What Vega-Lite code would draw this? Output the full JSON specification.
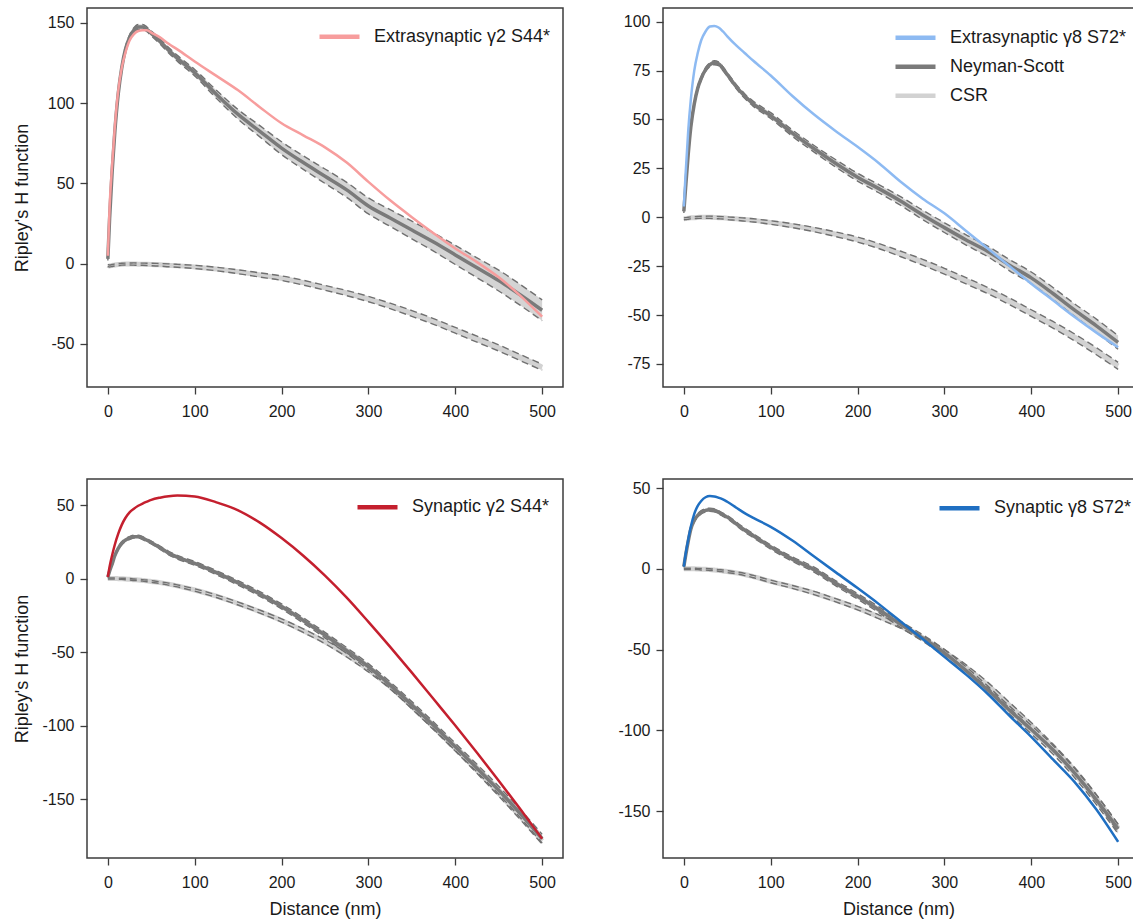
{
"$schema": "https://vega.github.io/schema/vega-lite/v6.json",
"background": "white",
"padding": {"left": 12, "top": 7, "right": 0, "bottom": 0},
"columns": 2,
"spacing": {"row": 92, "column": 100},
"bounds": "flush",
"datasets": {
"tl": [
{"r":0,"obs":5,"ns":3,"nl":2,"nh":4,"cs":-1,"cl":-1.6,"ch":-0.4},
{"r":2,"obs":35,"ns":28,"nl":26.8,"nh":29.2,"cs":-1.4,"cl":-2.0,"ch":-0.8},
{"r":5,"obs":62,"ns":58,"nl":56.7,"nh":59.3,"cs":-1.1,"cl":-1.7,"ch":-0.5},
{"r":8,"obs":85,"ns":82,"nl":80.6,"nh":83.4,"cs":-0.8,"cl":-1.4,"ch":-0.2},
{"r":12,"obs":108,"ns":106,"nl":104.5,"nh":107.5,"cs":-0.5,"cl":-1.1,"ch":0.1},
{"r":16,"obs":122,"ns":122,"nl":120.5,"nh":123.5,"cs":-0.3,"cl":-0.9,"ch":0.3},
{"r":20,"obs":131,"ns":133,"nl":131.5,"nh":134.5,"cs":-0.2,"cl":-0.8,"ch":0.4},
{"r":25,"obs":139,"ns":141,"nl":139.5,"nh":142.5,"cs":-0.2,"cl":-0.8,"ch":0.4},
{"r":30,"obs":143,"ns":145.5,"nl":144,"nh":147,"cs":-0.2,"cl":-0.9,"ch":0.5},
{"r":35,"obs":145,"ns":147.5,"nl":146,"nh":149,"cs":-0.3,"cl":-1.0,"ch":0.4},
{"r":40,"obs":145.5,"ns":147.5,"nl":146,"nh":149,"cs":-0.3,"cl":-1.0,"ch":0.4},
{"r":45,"obs":145.5,"ns":146,"nl":144.5,"nh":147.5,"cs":-0.4,"cl":-1.1,"ch":0.3},
{"r":50,"obs":144,"ns":143.5,"nl":142,"nh":145,"cs":-0.5,"cl":-1.3,"ch":0.3},
{"r":60,"obs":141,"ns":138.5,"nl":136.9,"nh":140.1,"cs":-0.7,"cl":-1.5,"ch":0.1},
{"r":70,"obs":137,"ns":133,"nl":131.3,"nh":134.7,"cs":-1,"cl":-1.9,"ch":-0.1},
{"r":80,"obs":133.5,"ns":128,"nl":126.2,"nh":129.8,"cs":-1.3,"cl":-2.2,"ch":-0.4},
{"r":100,"obs":126,"ns":119,"nl":117,"nh":121,"cs":-2,"cl":-3,"ch":-1},
{"r":125,"obs":117,"ns":105.5,"nl":103,"nh":108,"cs":-3.3,"cl":-4.4,"ch":-2.2},
{"r":150,"obs":108,"ns":93,"nl":90,"nh":96,"cs":-5,"cl":-6.2,"ch":-3.8},
{"r":175,"obs":97.5,"ns":82.5,"nl":79,"nh":86,"cs":-7,"cl":-8.3,"ch":-5.7},
{"r":200,"obs":87.5,"ns":72,"nl":68,"nh":76,"cs":-9,"cl":-10.4,"ch":-7.6},
{"r":225,"obs":80,"ns":63,"nl":58.8,"nh":67.2,"cs":-11.8,"cl":-13.3,"ch":-10.3},
{"r":250,"obs":72.5,"ns":54.5,"nl":50,"nh":59,"cs":-15,"cl":-16.5,"ch":-13.5},
{"r":275,"obs":63,"ns":46,"nl":41.3,"nh":50.7,"cs":-18.3,"cl":-19.9,"ch":-16.7},
{"r":300,"obs":51,"ns":36,"nl":31,"nh":41,"cs":-22,"cl":-23.7,"ch":-20.3},
{"r":325,"obs":39.5,"ns":28.5,"nl":23.3,"nh":33.7,"cs":-26.3,"cl":-28,"ch":-24.6},
{"r":350,"obs":29,"ns":21,"nl":15.5,"nh":26.5,"cs":-31,"cl":-32.8,"ch":-29.2},
{"r":375,"obs":19,"ns":13.5,"nl":7.8,"nh":19.2,"cs":-36,"cl":-37.8,"ch":-34.2},
{"r":400,"obs":9.5,"ns":5.5,"nl":-0.5,"nh":11.5,"cs":-41.5,"cl":-43.3,"ch":-39.7},
{"r":425,"obs":1,"ns":-2.5,"nl":-8.7,"nh":3.7,"cs":-47,"cl":-48.9,"ch":-45.1},
{"r":450,"obs":-8.5,"ns":-10.5,"nl":-17,"nh":-4,"cs":-52.5,"cl":-54.4,"ch":-50.6},
{"r":475,"obs":-20,"ns":-19.5,"nl":-26,"nh":-13,"cs":-58.5,"cl":-60.4,"ch":-56.6},
{"r":500,"obs":-33,"ns":-29,"nl":-35.5,"nh":-22.5,"cs":-64.5,"cl":-66.4,"ch":-62.6}
],
"tr": [
{"r":0,"obs":5.5,"ns":3,"nl":2.2,"nh":3.8,"cs":-0.8,"cl":-1.3,"ch":-0.3},
{"r":2,"obs":22,"ns":15,"nl":14.2,"nh":15.8,"cs":-0.7,"cl":-1.2,"ch":-0.2},
{"r":5,"obs":44,"ns":32,"nl":31.1,"nh":32.9,"cs":-0.5,"cl":-1.0,"ch":0},
{"r":8,"obs":60,"ns":46,"nl":45,"nh":47,"cs":-0.3,"cl":-0.8,"ch":0.2},
{"r":12,"obs":75,"ns":58,"nl":57,"nh":59,"cs":-0.2,"cl":-0.7,"ch":0.3},
{"r":16,"obs":84,"ns":66,"nl":65,"nh":67,"cs":-0.1,"cl":-0.6,"ch":0.4},
{"r":20,"obs":90.5,"ns":71,"nl":70,"nh":72,"cs":0,"cl":-0.5,"ch":0.5},
{"r":25,"obs":95,"ns":75.5,"nl":74.5,"nh":76.5,"cs":0,"cl":-0.5,"ch":0.5},
{"r":30,"obs":97.5,"ns":78,"nl":77,"nh":79,"cs":0,"cl":-0.6,"ch":0.6},
{"r":35,"obs":97.8,"ns":79,"nl":78,"nh":80,"cs":-0.1,"cl":-0.7,"ch":0.5},
{"r":40,"obs":97,"ns":78.5,"nl":77.5,"nh":79.5,"cs":-0.2,"cl":-0.8,"ch":0.4},
{"r":45,"obs":95,"ns":76,"nl":75,"nh":77,"cs":-0.3,"cl":-0.9,"ch":0.3},
{"r":50,"obs":92.5,"ns":73,"nl":72,"nh":74,"cs":-0.5,"cl":-1.2,"ch":0.2},
{"r":60,"obs":88,"ns":67,"nl":65.9,"nh":68.1,"cs":-0.8,"cl":-1.5,"ch":-0.1},
{"r":70,"obs":84,"ns":62,"nl":60.8,"nh":63.2,"cs":-1.2,"cl":-2.0,"ch":-0.4},
{"r":80,"obs":80,"ns":58,"nl":56.7,"nh":59.3,"cs":-1.6,"cl":-2.4,"ch":-0.8},
{"r":100,"obs":72.5,"ns":52,"nl":50.5,"nh":53.5,"cs":-2.7,"cl":-3.6,"ch":-1.8},
{"r":125,"obs":62,"ns":43,"nl":41.4,"nh":44.6,"cs":-4.3,"cl":-5.3,"ch":-3.3},
{"r":150,"obs":52.5,"ns":35,"nl":33.3,"nh":36.7,"cs":-6.3,"cl":-7.4,"ch":-5.2},
{"r":175,"obs":44,"ns":27.5,"nl":25.6,"nh":29.4,"cs":-8.7,"cl":-9.9,"ch":-7.5},
{"r":200,"obs":36,"ns":20.5,"nl":18.5,"nh":22.5,"cs":-11.4,"cl":-12.7,"ch":-10.1},
{"r":225,"obs":27.5,"ns":14.5,"nl":12.4,"nh":16.6,"cs":-14.8,"cl":-16.1,"ch":-13.5},
{"r":250,"obs":18,"ns":8.2,"nl":6.0,"nh":10.4,"cs":-18.8,"cl":-20.2,"ch":-17.4},
{"r":275,"obs":9.5,"ns":1.2,"nl":-1.2,"nh":3.6,"cs":-23,"cl":-24.5,"ch":-21.5},
{"r":300,"obs":2,"ns":-5.3,"nl":-7.8,"nh":-2.8,"cs":-27.6,"cl":-29.1,"ch":-26.1},
{"r":325,"obs":-7,"ns":-11.6,"nl":-14.2,"nh":-9.0,"cs":-32.5,"cl":-34.1,"ch":-30.9},
{"r":350,"obs":-16,"ns":-17.5,"nl":-20.2,"nh":-14.8,"cs":-37.5,"cl":-39.1,"ch":-35.9},
{"r":375,"obs":-25,"ns":-24.5,"nl":-27.4,"nh":-21.6,"cs":-43,"cl":-44.7,"ch":-41.3},
{"r":400,"obs":-34,"ns":-31,"nl":-34,"nh":-28,"cs":-49,"cl":-50.7,"ch":-47.3},
{"r":425,"obs":-42.5,"ns":-39,"nl":-42.1,"nh":-35.9,"cs":-55,"cl":-56.7,"ch":-53.3},
{"r":450,"obs":-51,"ns":-47.5,"nl":-50.7,"nh":-44.3,"cs":-61.5,"cl":-63.3,"ch":-59.7},
{"r":475,"obs":-59,"ns":-55.5,"nl":-58.9,"nh":-52.1,"cs":-68.5,"cl":-70.3,"ch":-66.7},
{"r":500,"obs":-66.5,"ns":-64,"nl":-67.5,"nh":-60.5,"cs":-76,"cl":-77.8,"ch":-74.2}
],
"bl": [
{"r":0,"obs":1,"ns":1,"nl":0.5,"nh":1.5,"cs":0,"cl":-0.4,"ch":0.4},
{"r":2,"obs":8,"ns":5,"nl":4.4,"nh":5.6,"cs":0,"cl":-0.4,"ch":0.4},
{"r":5,"obs":16,"ns":10,"nl":9.3,"nh":10.7,"cs":0,"cl":-0.4,"ch":0.4},
{"r":8,"obs":23,"ns":15.5,"nl":14.7,"nh":16.3,"cs":0,"cl":-0.4,"ch":0.4},
{"r":12,"obs":30.5,"ns":20.5,"nl":19.6,"nh":21.4,"cs":-0.1,"cl":-0.5,"ch":0.3},
{"r":16,"obs":36.5,"ns":24,"nl":23,"nh":25,"cs":-0.2,"cl":-0.6,"ch":0.2},
{"r":20,"obs":41,"ns":26,"nl":25,"nh":27,"cs":-0.3,"cl":-0.8,"ch":0.2},
{"r":25,"obs":45,"ns":27.5,"nl":26.5,"nh":28.5,"cs":-0.5,"cl":-1.0,"ch":0},
{"r":30,"obs":47.5,"ns":28.5,"nl":27.5,"nh":29.5,"cs":-0.8,"cl":-1.3,"ch":-0.3},
{"r":35,"obs":49.5,"ns":28.5,"nl":27.5,"nh":29.5,"cs":-1,"cl":-1.5,"ch":-0.5},
{"r":40,"obs":51,"ns":27.5,"nl":26.5,"nh":28.5,"cs":-1.3,"cl":-1.8,"ch":-0.8},
{"r":45,"obs":52.3,"ns":26,"nl":25,"nh":27,"cs":-1.6,"cl":-2.2,"ch":-1.0},
{"r":50,"obs":53.5,"ns":24.5,"nl":23.5,"nh":25.5,"cs":-2,"cl":-2.6,"ch":-1.4},
{"r":60,"obs":55,"ns":21,"nl":19.9,"nh":22.1,"cs":-2.8,"cl":-3.4,"ch":-2.2},
{"r":70,"obs":56,"ns":17.3,"nl":16.1,"nh":18.5,"cs":-3.8,"cl":-4.5,"ch":-3.1},
{"r":80,"obs":56.4,"ns":14.5,"nl":13.3,"nh":15.7,"cs":-5,"cl":-5.7,"ch":-4.3},
{"r":100,"obs":55.8,"ns":10.3,"nl":9,"nh":11.6,"cs":-7.8,"cl":-8.6,"ch":-7.0},
{"r":125,"obs":51.8,"ns":4,"nl":2.6,"nh":5.4,"cs":-12,"cl":-12.9,"ch":-11.1},
{"r":150,"obs":46.4,"ns":-3,"nl":-4.5,"nh":-1.5,"cs":-17,"cl":-18,"ch":-16},
{"r":175,"obs":38,"ns":-10.5,"nl":-12.1,"nh":-8.9,"cs":-22.5,"cl":-23.5,"ch":-21.5},
{"r":200,"obs":27.5,"ns":-19,"nl":-20.7,"nh":-17.3,"cs":-28.5,"cl":-29.6,"ch":-27.4},
{"r":225,"obs":15.5,"ns":-28.5,"nl":-30.3,"nh":-26.7,"cs":-35.5,"cl":-36.7,"ch":-34.3},
{"r":250,"obs":2,"ns":-38.5,"nl":-40.4,"nh":-36.6,"cs":-43,"cl":-44.3,"ch":-41.7},
{"r":275,"obs":-13,"ns":-49,"nl":-51,"nh":-47,"cs":-52,"cl":-53.4,"ch":-50.6},
{"r":300,"obs":-29.5,"ns":-60,"nl":-62.1,"nh":-57.9,"cs":-62,"cl":-63.5,"ch":-60.5},
{"r":325,"obs":-46.5,"ns":-72.5,"nl":-74.7,"nh":-70.3,"cs":-73.5,"cl":-75.1,"ch":-71.9},
{"r":350,"obs":-64,"ns":-86,"nl":-88.3,"nh":-83.7,"cs":-87,"cl":-88.7,"ch":-85.3},
{"r":375,"obs":-82,"ns":-100,"nl":-102.4,"nh":-97.6,"cs":-101,"cl":-102.8,"ch":-99.2},
{"r":400,"obs":-100,"ns":-114.5,"nl":-117,"nh":-112,"cs":-115.5,"cl":-117.4,"ch":-113.6},
{"r":425,"obs":-118.5,"ns":-129,"nl":-131.6,"nh":-126.4,"cs":-130.5,"cl":-132.5,"ch":-128.5},
{"r":450,"obs":-137.5,"ns":-144,"nl":-146.7,"nh":-141.3,"cs":-146,"cl":-148,"ch":-144},
{"r":475,"obs":-157,"ns":-160,"nl":-162.8,"nh":-157.2,"cs":-162,"cl":-164.1,"ch":-159.9},
{"r":500,"obs":-177,"ns":-177,"nl":-180,"nh":-174,"cs":-178.5,"cl":-180.7,"ch":-176.3}
],
"br": [
{"r":0,"obs":1.4,"ns":1.4,"nl":0.9,"nh":1.9,"cs":0,"cl":-0.4,"ch":0.4},
{"r":2,"obs":9,"ns":8,"nl":7.4,"nh":8.6,"cs":0,"cl":-0.4,"ch":0.4},
{"r":5,"obs":18,"ns":17,"nl":16.3,"nh":17.7,"cs":0,"cl":-0.4,"ch":0.4},
{"r":8,"obs":26,"ns":24.5,"nl":23.7,"nh":25.3,"cs":0,"cl":-0.4,"ch":0.4},
{"r":12,"obs":34,"ns":30,"nl":29.1,"nh":30.9,"cs":0,"cl":-0.4,"ch":0.4},
{"r":16,"obs":39,"ns":33,"nl":32,"nh":34,"cs":-0.1,"cl":-0.5,"ch":0.3},
{"r":20,"obs":42,"ns":35,"nl":34,"nh":36,"cs":-0.2,"cl":-0.7,"ch":0.3},
{"r":25,"obs":44.3,"ns":36.2,"nl":35.2,"nh":37.2,"cs":-0.3,"cl":-0.8,"ch":0.2},
{"r":30,"obs":45,"ns":36.6,"nl":35.6,"nh":37.6,"cs":-0.5,"cl":-1.0,"ch":0},
{"r":35,"obs":44.8,"ns":36.3,"nl":35.3,"nh":37.3,"cs":-0.7,"cl":-1.2,"ch":-0.2},
{"r":40,"obs":44,"ns":35,"nl":34,"nh":36,"cs":-1,"cl":-1.5,"ch":-0.5},
{"r":45,"obs":43,"ns":33.5,"nl":32.5,"nh":34.5,"cs":-1.3,"cl":-1.9,"ch":-0.7},
{"r":50,"obs":41.5,"ns":32,"nl":31,"nh":33,"cs":-1.7,"cl":-2.3,"ch":-1.1},
{"r":60,"obs":38,"ns":28,"nl":26.9,"nh":29.1,"cs":-2.5,"cl":-3.1,"ch":-1.9},
{"r":70,"obs":34.5,"ns":24,"nl":22.8,"nh":25.2,"cs":-3.5,"cl":-4.2,"ch":-2.8},
{"r":80,"obs":31.5,"ns":20.5,"nl":19.3,"nh":21.7,"cs":-4.8,"cl":-5.5,"ch":-4.1},
{"r":100,"obs":26,"ns":13.5,"nl":12.2,"nh":14.8,"cs":-7.8,"cl":-8.6,"ch":-7.0},
{"r":125,"obs":17.5,"ns":6,"nl":4.6,"nh":7.4,"cs":-11.2,"cl":-12.1,"ch":-10.3},
{"r":150,"obs":7.6,"ns":-0.5,"nl":-2,"nh":1,"cs":-15,"cl":-16,"ch":-14},
{"r":175,"obs":-2.2,"ns":-9,"nl":-10.6,"nh":-7.4,"cs":-19.5,"cl":-20.5,"ch":-18.5},
{"r":200,"obs":-11.9,"ns":-17,"nl":-18.7,"nh":-15.3,"cs":-24.3,"cl":-25.4,"ch":-23.2},
{"r":225,"obs":-22,"ns":-25.5,"nl":-27.3,"nh":-23.7,"cs":-29.8,"cl":-31,"ch":-28.6},
{"r":250,"obs":-32.8,"ns":-34.5,"nl":-36.4,"nh":-32.6,"cs":-35.6,"cl":-36.9,"ch":-34.3},
{"r":275,"obs":-43.5,"ns":-42.8,"nl":-44.8,"nh":-40.8,"cs":-43,"cl":-44.4,"ch":-41.6},
{"r":300,"obs":-54.5,"ns":-52,"nl":-54.1,"nh":-49.9,"cs":-51.5,"cl":-53,"ch":-50},
{"r":325,"obs":-65.5,"ns":-63,"nl":-65.3,"nh":-60.7,"cs":-61,"cl":-62.6,"ch":-59.4},
{"r":350,"obs":-77.5,"ns":-75,"nl":-77.4,"nh":-72.6,"cs":-72,"cl":-73.7,"ch":-70.3},
{"r":375,"obs":-91,"ns":-87.5,"nl":-90,"nh":-85,"cs":-84.5,"cl":-86.3,"ch":-82.7},
{"r":400,"obs":-104,"ns":-99.5,"nl":-102.1,"nh":-96.9,"cs":-97,"cl":-98.9,"ch":-95.1},
{"r":425,"obs":-118,"ns":-112,"nl":-114.7,"nh":-109.3,"cs":-110.5,"cl":-112.5,"ch":-108.5},
{"r":450,"obs":-132,"ns":-126.5,"nl":-129.3,"nh":-123.7,"cs":-125,"cl":-127.1,"ch":-122.9},
{"r":475,"obs":-149,"ns":-143,"nl":-146,"nh":-140,"cs":-142,"cl":-144.2,"ch":-139.8},
{"r":500,"obs":-169,"ns":-161,"nl":-164,"nh":-158,"cs":-160.5,"cl":-162.8,"ch":-158.2}
]
},
"concat": [
{
"width": 476, "height": 379,
"data": {"name": "tl"},
"encoding": {"x": {"field": "r", "type": "quantitative", "title": null, "scale": {"domain": [-24, 524], "nice": false, "zero": false}, "axis": {"values": [0,100,200,300,400,500]}}},
"layer": [
{"mark": {"type": "area", "color": "#d4d4d4", "interpolate": "monotone"}, "encoding": {"y": {"field": "nl", "type": "quantitative", "title": "Ripley's H function", "scale": {"domain": [-76.8, 159.3], "nice": false, "zero": false}, "axis": {"values": [-50,0,50,100,150], "titlePadding": 16}}, "y2": {"field": "nh"}}},
{"mark": {"type": "area", "color": "#dadada", "interpolate": "monotone"}, "encoding": {"y": {"field": "cl", "type": "quantitative", "title": "Ripley's H function", "scale": {"domain": [-76.8, 159.3], "nice": false, "zero": false}}, "y2": {"field": "ch"}}},
{"mark": {"type": "line", "color": "#d2d2d2", "strokeWidth": 5, "interpolate": "monotone"}, "encoding": {"y": {"field": "cs", "type": "quantitative", "title": "Ripley's H function", "scale": {"domain": [-76.8, 159.3], "nice": false, "zero": false}}}},
{"mark": {"type": "line", "color": "#707070", "strokeWidth": 1.4, "strokeDash": [7, 4], "interpolate": "monotone"}, "encoding": {"y": {"field": "nl", "type": "quantitative", "title": "Ripley's H function", "scale": {"domain": [-76.8, 159.3], "nice": false, "zero": false}}}},
{"mark": {"type": "line", "color": "#707070", "strokeWidth": 1.4, "strokeDash": [7, 4], "interpolate": "monotone"}, "encoding": {"y": {"field": "nh", "type": "quantitative", "title": "Ripley's H function", "scale": {"domain": [-76.8, 159.3], "nice": false, "zero": false}}}},
{"mark": {"type": "line", "color": "#707070", "strokeWidth": 1.4, "strokeDash": [7, 4], "interpolate": "monotone"}, "encoding": {"y": {"field": "cl", "type": "quantitative", "title": "Ripley's H function", "scale": {"domain": [-76.8, 159.3], "nice": false, "zero": false}}}},
{"mark": {"type": "line", "color": "#707070", "strokeWidth": 1.4, "strokeDash": [7, 4], "interpolate": "monotone"}, "encoding": {"y": {"field": "ch", "type": "quantitative", "title": "Ripley's H function", "scale": {"domain": [-76.8, 159.3], "nice": false, "zero": false}}}},
{"mark": {"type": "line", "color": "#7a7a7a", "strokeWidth": 3.5, "interpolate": "monotone"}, "encoding": {"y": {"field": "ns", "type": "quantitative", "title": "Ripley's H function", "scale": {"domain": [-76.8, 159.3], "nice": false, "zero": false}}}},
{"mark": {"type": "line", "strokeWidth": 2.5, "interpolate": "monotone"}, "encoding": {"y": {"field": "obs", "type": "quantitative", "title": "Ripley's H function", "scale": {"domain": [-76.8, 159.3], "nice": false, "zero": false}}, "color": {"datum": "Extrasynaptic γ2 S44*", "type": "nominal", "scale": {"domain": ["Extrasynaptic γ2 S44*"], "range": ["#f79d9d"]}, "legend": {"orient": "none", "legendX": 240, "legendY": 16.3, "title": null}}}}
]
},
{
"width": 471, "height": 379,
"data": {"name": "tr"},
"encoding": {"x": {"field": "r", "type": "quantitative", "title": null, "scale": {"domain": [-24, 518.3], "nice": false, "zero": false}, "axis": {"values": [0,100,200,300,400,500]}}},
"layer": [
{"mark": {"type": "area", "color": "#d4d4d4", "interpolate": "monotone"}, "encoding": {"y": {"field": "nl", "type": "quantitative", "title": null, "scale": {"domain": [-86.8, 107], "nice": false, "zero": false}, "axis": {"values": [-75,-50,-25,0,25,50,75,100]}}, "y2": {"field": "nh"}}},
{"mark": {"type": "area", "color": "#dadada", "interpolate": "monotone"}, "encoding": {"y": {"field": "cl", "type": "quantitative", "title": null, "scale": {"domain": [-86.8, 107], "nice": false, "zero": false}}, "y2": {"field": "ch"}}},
{"mark": {"type": "line", "strokeWidth": 5, "interpolate": "monotone"}, "encoding": {"y": {"field": "cs", "type": "quantitative", "title": null, "scale": {"domain": [-86.8, 107], "nice": false, "zero": false}}, "color": {"datum": "CSR", "type": "nominal", "scale": {"domain": ["Extrasynaptic γ8 S72*", "Neyman-Scott", "CSR"], "range": ["#8dbaf2", "#7a7a7a", "#d2d2d2"]}, "legend": {"orient": "none", "legendX": 240, "legendY": 17.3, "title": null}}}},
{"mark": {"type": "line", "color": "#707070", "strokeWidth": 1.4, "strokeDash": [7, 4], "interpolate": "monotone"}, "encoding": {"y": {"field": "nl", "type": "quantitative", "title": null, "scale": {"domain": [-86.8, 107], "nice": false, "zero": false}}}},
{"mark": {"type": "line", "color": "#707070", "strokeWidth": 1.4, "strokeDash": [7, 4], "interpolate": "monotone"}, "encoding": {"y": {"field": "nh", "type": "quantitative", "title": null, "scale": {"domain": [-86.8, 107], "nice": false, "zero": false}}}},
{"mark": {"type": "line", "color": "#707070", "strokeWidth": 1.4, "strokeDash": [7, 4], "interpolate": "monotone"}, "encoding": {"y": {"field": "cl", "type": "quantitative", "title": null, "scale": {"domain": [-86.8, 107], "nice": false, "zero": false}}}},
{"mark": {"type": "line", "color": "#707070", "strokeWidth": 1.4, "strokeDash": [7, 4], "interpolate": "monotone"}, "encoding": {"y": {"field": "ch", "type": "quantitative", "title": null, "scale": {"domain": [-86.8, 107], "nice": false, "zero": false}}}},
{"mark": {"type": "line", "strokeWidth": 3.5, "interpolate": "monotone"}, "encoding": {"y": {"field": "ns", "type": "quantitative", "title": null, "scale": {"domain": [-86.8, 107], "nice": false, "zero": false}}, "color": {"datum": "Neyman-Scott", "type": "nominal", "scale": {"domain": ["Extrasynaptic γ8 S72*", "Neyman-Scott", "CSR"], "range": ["#8dbaf2", "#7a7a7a", "#d2d2d2"]}, "legend": {"orient": "none", "legendX": 240, "legendY": 17.3, "title": null}}}},
{"mark": {"type": "line", "strokeWidth": 2.5, "interpolate": "monotone"}, "encoding": {"y": {"field": "obs", "type": "quantitative", "title": null, "scale": {"domain": [-86.8, 107], "nice": false, "zero": false}}, "color": {"datum": "Extrasynaptic γ8 S72*", "type": "nominal", "scale": {"domain": ["Extrasynaptic γ8 S72*", "Neyman-Scott", "CSR"], "range": ["#8dbaf2", "#7a7a7a", "#d2d2d2"]}, "legend": {"orient": "none", "legendX": 240, "legendY": 17.3, "title": null}}}}
]
},
{
"width": 476, "height": 379,
"data": {"name": "bl"},
"encoding": {"x": {"field": "r", "type": "quantitative", "title": "Distance (nm)", "scale": {"domain": [-24, 524], "nice": false, "zero": false}, "axis": {"values": [0,100,200,300,400,500]}}},
"layer": [
{"mark": {"type": "area", "color": "#d4d4d4", "interpolate": "monotone"}, "encoding": {"y": {"field": "nl", "type": "quantitative", "title": "Ripley's H function", "scale": {"domain": [-190.1, 67.7], "nice": false, "zero": false}, "axis": {"values": [-150,-100,-50,0,50], "titlePadding": 10}}, "y2": {"field": "nh"}}},
{"mark": {"type": "area", "color": "#dadada", "interpolate": "monotone"}, "encoding": {"y": {"field": "cl", "type": "quantitative", "title": "Ripley's H function", "scale": {"domain": [-190.1, 67.7], "nice": false, "zero": false}}, "y2": {"field": "ch"}}},
{"mark": {"type": "line", "color": "#d2d2d2", "strokeWidth": 5, "interpolate": "monotone"}, "encoding": {"y": {"field": "cs", "type": "quantitative", "title": "Ripley's H function", "scale": {"domain": [-190.1, 67.7], "nice": false, "zero": false}}}},
{"mark": {"type": "line", "color": "#707070", "strokeWidth": 1.4, "strokeDash": [7, 4], "interpolate": "monotone"}, "encoding": {"y": {"field": "nl", "type": "quantitative", "title": "Ripley's H function", "scale": {"domain": [-190.1, 67.7], "nice": false, "zero": false}}}},
{"mark": {"type": "line", "color": "#707070", "strokeWidth": 1.4, "strokeDash": [7, 4], "interpolate": "monotone"}, "encoding": {"y": {"field": "nh", "type": "quantitative", "title": "Ripley's H function", "scale": {"domain": [-190.1, 67.7], "nice": false, "zero": false}}}},
{"mark": {"type": "line", "color": "#707070", "strokeWidth": 1.4, "strokeDash": [7, 4], "interpolate": "monotone"}, "encoding": {"y": {"field": "cl", "type": "quantitative", "title": "Ripley's H function", "scale": {"domain": [-190.1, 67.7], "nice": false, "zero": false}}}},
{"mark": {"type": "line", "color": "#707070", "strokeWidth": 1.4, "strokeDash": [7, 4], "interpolate": "monotone"}, "encoding": {"y": {"field": "ch", "type": "quantitative", "title": "Ripley's H function", "scale": {"domain": [-190.1, 67.7], "nice": false, "zero": false}}}},
{"mark": {"type": "line", "color": "#7a7a7a", "strokeWidth": 3.5, "interpolate": "monotone"}, "encoding": {"y": {"field": "ns", "type": "quantitative", "title": "Ripley's H function", "scale": {"domain": [-190.1, 67.7], "nice": false, "zero": false}}}},
{"mark": {"type": "line", "strokeWidth": 2.5, "interpolate": "monotone"}, "encoding": {"y": {"field": "obs", "type": "quantitative", "title": "Ripley's H function", "scale": {"domain": [-190.1, 67.7], "nice": false, "zero": false}}, "color": {"datum": "Synaptic γ2 S44*", "type": "nominal", "scale": {"domain": ["Synaptic γ2 S44*"], "range": ["#c41f2e"]}, "legend": {"orient": "none", "legendX": 278, "legendY": 15.7, "title": null}}}}
]
},
{
"width": 471, "height": 379,
"data": {"name": "br"},
"encoding": {"x": {"field": "r", "type": "quantitative", "title": "Distance (nm)", "scale": {"domain": [-24, 518.3], "nice": false, "zero": false}, "axis": {"values": [0,100,200,300,400,500]}}},
"layer": [
{"mark": {"type": "area", "color": "#d4d4d4", "interpolate": "monotone"}, "encoding": {"y": {"field": "nl", "type": "quantitative", "title": null, "scale": {"domain": [-179, 55.6], "nice": false, "zero": false}, "axis": {"values": [-150,-100,-50,0,50]}}, "y2": {"field": "nh"}}},
{"mark": {"type": "area", "color": "#dadada", "interpolate": "monotone"}, "encoding": {"y": {"field": "cl", "type": "quantitative", "title": null, "scale": {"domain": [-179, 55.6], "nice": false, "zero": false}}, "y2": {"field": "ch"}}},
{"mark": {"type": "line", "color": "#d2d2d2", "strokeWidth": 5, "interpolate": "monotone"}, "encoding": {"y": {"field": "cs", "type": "quantitative", "title": null, "scale": {"domain": [-179, 55.6], "nice": false, "zero": false}}}},
{"mark": {"type": "line", "color": "#707070", "strokeWidth": 1.4, "strokeDash": [7, 4], "interpolate": "monotone"}, "encoding": {"y": {"field": "nl", "type": "quantitative", "title": null, "scale": {"domain": [-179, 55.6], "nice": false, "zero": false}}}},
{"mark": {"type": "line", "color": "#707070", "strokeWidth": 1.4, "strokeDash": [7, 4], "interpolate": "monotone"}, "encoding": {"y": {"field": "nh", "type": "quantitative", "title": null, "scale": {"domain": [-179, 55.6], "nice": false, "zero": false}}}},
{"mark": {"type": "line", "color": "#707070", "strokeWidth": 1.4, "strokeDash": [7, 4], "interpolate": "monotone"}, "encoding": {"y": {"field": "cl", "type": "quantitative", "title": null, "scale": {"domain": [-179, 55.6], "nice": false, "zero": false}}}},
{"mark": {"type": "line", "color": "#707070", "strokeWidth": 1.4, "strokeDash": [7, 4], "interpolate": "monotone"}, "encoding": {"y": {"field": "ch", "type": "quantitative", "title": null, "scale": {"domain": [-179, 55.6], "nice": false, "zero": false}}}},
{"mark": {"type": "line", "color": "#7a7a7a", "strokeWidth": 3.5, "interpolate": "monotone"}, "encoding": {"y": {"field": "ns", "type": "quantitative", "title": null, "scale": {"domain": [-179, 55.6], "nice": false, "zero": false}}}},
{"mark": {"type": "line", "strokeWidth": 2.5, "interpolate": "monotone"}, "encoding": {"y": {"field": "obs", "type": "quantitative", "title": null, "scale": {"domain": [-179, 55.6], "nice": false, "zero": false}}, "color": {"datum": "Synaptic γ8 S72*", "type": "nominal", "scale": {"domain": ["Synaptic γ8 S72*"], "range": ["#1f6fc2"]}, "legend": {"orient": "none", "legendX": 284, "legendY": 16.7, "title": null}}}}
]
}
],
"resolve": {"scale": {"color": "independent"}, "legend": {"color": "independent"}},
"config": {
"font": "Liberation Sans",
"view": {"stroke": "#3c3c3c", "strokeWidth": 1.5},
"axis": {"domain": false, "grid": false, "ticks": true, "tickSize": 7, "tickColor": "#3c3c3c", "tickWidth": 1.3, "labelFont": "Liberation Sans", "labelFontSize": 16, "labelColor": "#1a1a1a", "labelExpr": "'' + datum.value", "titleFont": "Liberation Sans", "titleFontSize": 18, "titleFontWeight": "normal", "titleColor": "#1a1a1a"},
"axisX": {"labelPadding": 9, "titlePadding": 10},
"axisY": {"labelPadding": 6},
"legend": {"symbolType": "M-2,0H2", "symbolStrokeWidth": 4.5, "symbolSize": 400, "labelFont": "Liberation Sans", "labelFontSize": 18, "labelColor": "#1a1a1a", "labelOffset": 22, "labelLimit": 400, "rowPadding": 7, "padding": 0}
}
}
